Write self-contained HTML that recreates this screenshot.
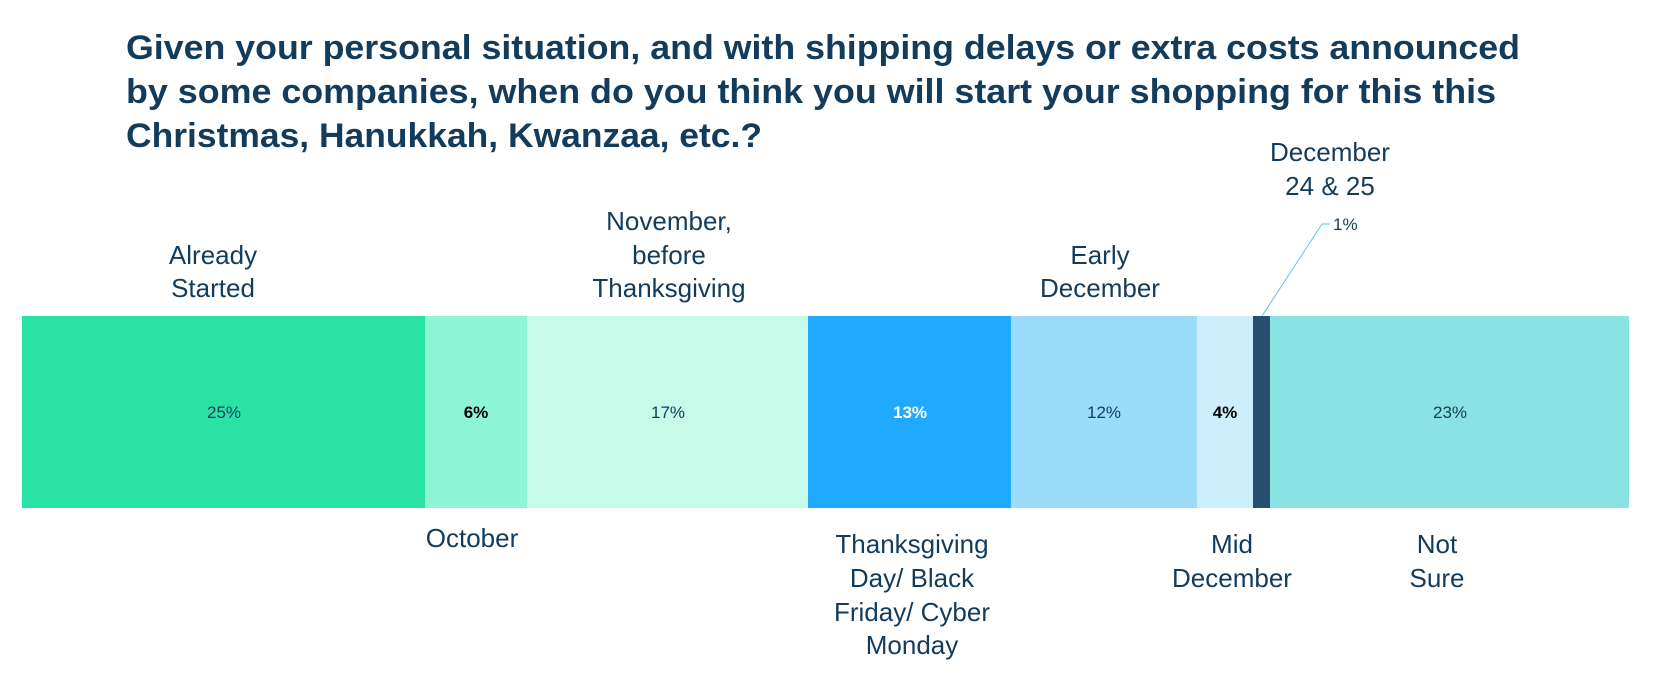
<!DOCTYPE html>
<html><head><meta charset="utf-8"><style>
html,body{margin:0;padding:0;background:#fff;}
svg{display:block;font-family:"Liberation Sans",Arial,sans-serif;}
</style></head><body>
<svg width="1654" height="682" viewBox="0 0 1654 682" xmlns="http://www.w3.org/2000/svg">
<g font-weight="bold" font-size="34" fill="#133b5c">
<text x="126" y="59" textLength="1394" lengthAdjust="spacingAndGlyphs">Given your personal situation, and with shipping delays or extra costs announced</text>
<text x="126" y="103" textLength="1370" lengthAdjust="spacingAndGlyphs">by some companies, when do you think you will start your shopping for this this</text>
<text x="126" y="147" textLength="636" lengthAdjust="spacingAndGlyphs">Christmas, Hanukkah, Kwanzaa, etc.?</text>
</g>
<rect x="22" y="316" width="403" height="192" fill="#28e3a4"/>
<rect x="425" y="316" width="102" height="192" fill="#8ef5d6"/>
<rect x="527" y="316" width="281" height="192" fill="#c6fbea"/>
<rect x="808" y="316" width="203" height="192" fill="#20aaff"/>
<rect x="1011" y="316" width="186" height="192" fill="#9cdcfb"/>
<rect x="1197" y="316" width="56" height="192" fill="#cdeefc"/>
<rect x="1253" y="316" width="17" height="192" fill="#294f70"/>
<rect x="1270" y="316" width="359" height="192" fill="#89e3e3"/>
<g font-size="17" text-anchor="middle" fill="#133b5c">
<text x="224" y="418">25%</text>
<text x="476" y="418" font-weight="bold" fill="#000">6%</text>
<text x="668" y="418">17%</text>
<text x="910" y="418" font-weight="bold" fill="#fff">13%</text>
<text x="1104" y="418">12%</text>
<text x="1225" y="418" font-weight="bold" fill="#000">4%</text>
<text x="1450" y="418">23%</text>
</g>
<polyline points="1262,316 1322,224 1330,224" fill="none" stroke="#5ec3ea" stroke-width="1"/>
<text x="1333" y="230" font-size="17" fill="#133b5c">1%</text>
<g font-size="26" text-anchor="middle" fill="#133b5c">
<text x="213" y="264">Already</text><text x="213" y="297">Started</text>
<text x="669" y="230">November,</text><text x="669" y="264">before</text><text x="669" y="297">Thanksgiving</text>
<text x="1100" y="264">Early</text><text x="1100" y="297">December</text>
<text x="1330" y="161">December</text><text x="1330" y="195">24 &amp; 25</text>
<text x="472" y="547">October</text>
<text x="912" y="553">Thanksgiving</text><text x="912" y="587">Day/ Black</text><text x="912" y="621">Friday/ Cyber</text><text x="912" y="654">Monday</text>
<text x="1232" y="553">Mid</text><text x="1232" y="587">December</text>
<text x="1437" y="553">Not</text><text x="1437" y="587">Sure</text>
</g>
</svg>
</body></html>
